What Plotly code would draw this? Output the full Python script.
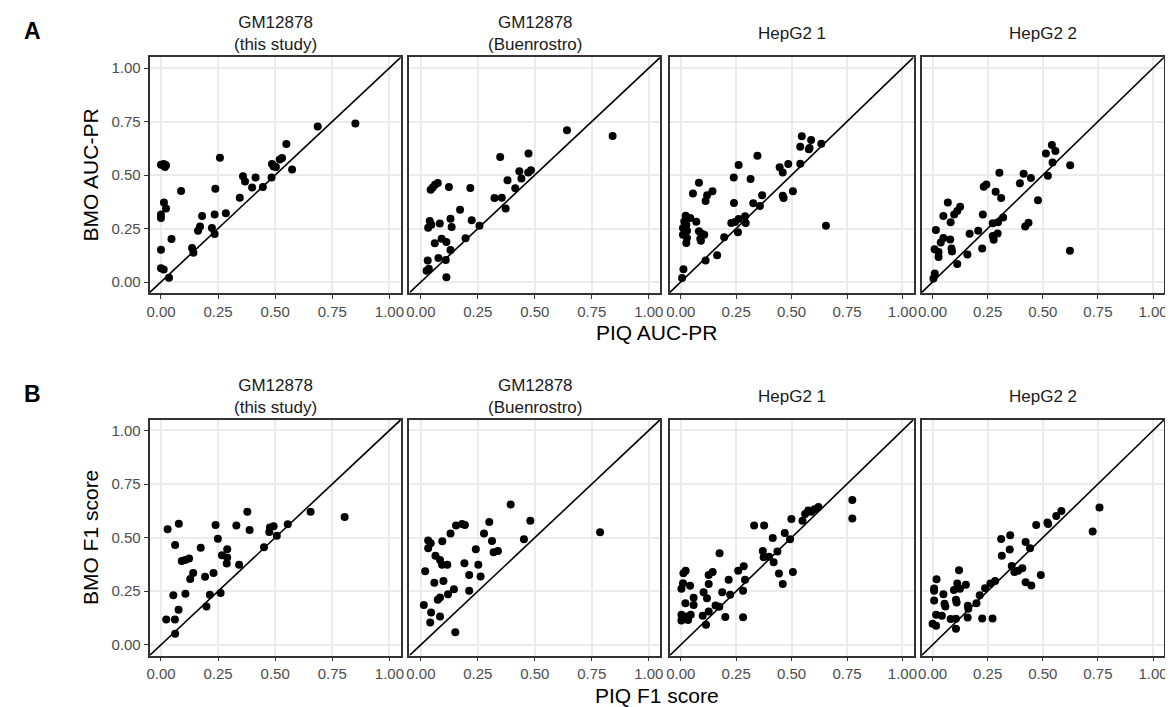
import plotly.graph_objects as go

W, H = 1173, 707
FONT = "Liberation Sans, Arial, Helvetica, sans-serif"

# column titles
col_titles = ["GM12878<br>(this study)", "GM12878<br>(Buenrostro)", "HepG2 1", "HepG2 2"]
row_letters = ["A", "B"]
x_titles = ["PIQ AUC-PR", "PIQ F1 score"]
y_titles = ["BMO AUC-PR", "BMO F1 score"]
tick_vals = [0, 0.25, 0.5, 0.75, 1.0]
tick_text = ["0.00", "0.25", "0.50", "0.75", "1.00"]

# ---- A: AUC-PR ----
piq_auc_gm_this = [0.0, 0.012, 0.022, 0.017, 0.258, 0.686, 0.851, 0.549, 0.53, 0.52,
                   0.574, 0.486, 0.493, 0.503, 0.484, 0.359, 0.368, 0.414, 0.399, 0.446,
                   0.088, 0.238, 0.345, 0.013, 0.022, 0.0, 0.0, 0.180, 0.235, 0.284,
                   0.171, 0.162, 0.223, 0.235, 0.046, 0.0, 0.136, 0.142, 0.0, 0.012,
                   0.035]
bmo_auc_gm_this = [0.548, 0.551, 0.545, 0.537, 0.581, 0.727, 0.741, 0.645, 0.58, 0.572,
                   0.526, 0.551, 0.54, 0.537, 0.488, 0.494, 0.47, 0.488, 0.442, 0.444,
                   0.425, 0.436, 0.394, 0.372, 0.343, 0.315, 0.299, 0.308, 0.316, 0.321,
                   0.259, 0.240, 0.252, 0.224, 0.201, 0.151, 0.159, 0.137, 0.064, 0.058,
                   0.020]

piq_auc_gm_buen = [0.641, 0.841, 0.348, 0.472, 0.432, 0.441, 0.471, 0.483, 0.380, 0.414,
                   0.323, 0.355, 0.372, 0.043, 0.052, 0.062, 0.074, 0.123, 0.217, 0.172,
                   0.039, 0.032, 0.046, 0.083, 0.130, 0.135, 0.223, 0.257, 0.196, 0.091,
                   0.112, 0.061, 0.130, 0.030, 0.077, 0.109, 0.025, 0.035, 0.112]
bmo_auc_gm_buen = [0.709, 0.682, 0.584, 0.601, 0.517, 0.484, 0.512, 0.522, 0.475, 0.438,
                   0.393, 0.394, 0.343, 0.431, 0.442, 0.455, 0.463, 0.444, 0.439, 0.338,
                   0.285, 0.254, 0.268, 0.273, 0.296, 0.257, 0.288, 0.263, 0.204, 0.202,
                   0.187, 0.181, 0.150, 0.100, 0.112, 0.103, 0.053, 0.062, 0.022]

piq_auc_hep1 = [0.546, 0.539, 0.588, 0.581, 0.578, 0.634, 0.346, 0.261, 0.446, 0.460,
                0.485, 0.539, 0.239, 0.315, 0.082, 0.055, 0.143, 0.119, 0.112, 0.367,
                0.460, 0.464, 0.506, 0.240, 0.327, 0.357, 0.655, 0.022, 0.016, 0.043,
                0.070, 0.025, 0.010, 0.028, 0.010, 0.028, 0.025, 0.082, 0.097, 0.088,
                0.106, 0.091, 0.228, 0.245, 0.261, 0.290, 0.293, 0.258, 0.196, 0.112,
                0.164, 0.012, 0.006]
bmo_auc_hep1 = [0.681, 0.632, 0.664, 0.626, 0.620, 0.646, 0.590, 0.547, 0.536, 0.512,
                0.551, 0.553, 0.488, 0.481, 0.464, 0.413, 0.424, 0.405, 0.379, 0.405,
                0.403, 0.393, 0.424, 0.369, 0.368, 0.355, 0.263, 0.310, 0.283, 0.299,
                0.282, 0.268, 0.252, 0.240, 0.221, 0.206, 0.182, 0.237, 0.224, 0.202,
                0.221, 0.193, 0.276, 0.280, 0.294, 0.307, 0.276, 0.232, 0.209, 0.100,
                0.125, 0.059, 0.019]

piq_auc_hep2 = [0.541, 0.514, 0.557, 0.544, 0.624, 0.523, 0.303, 0.413, 0.446, 0.396,
                0.232, 0.244, 0.286, 0.311, 0.478, 0.069, 0.125, 0.112, 0.098, 0.082,
                0.049, 0.228, 0.273, 0.297, 0.320, 0.420, 0.435, 0.015, 0.168, 0.207,
                0.273, 0.295, 0.277, 0.049, 0.080, 0.037, 0.009, 0.027, 0.027, 0.086,
                0.088, 0.225, 0.158, 0.112, 0.623, 0.010, 0.004]
bmo_auc_hep2 = [0.640, 0.601, 0.612, 0.558, 0.545, 0.497, 0.511, 0.506, 0.486, 0.461,
                0.445, 0.456, 0.422, 0.393, 0.382, 0.371, 0.352, 0.332, 0.315, 0.279,
                0.308, 0.315, 0.274, 0.279, 0.301, 0.259, 0.277, 0.243, 0.226, 0.240,
                0.215, 0.227, 0.198, 0.206, 0.199, 0.185, 0.153, 0.140, 0.117, 0.156,
                0.143, 0.157, 0.129, 0.084, 0.146, 0.040, 0.016]

# ---- B: F1 score ----
piq_f1_gm_this = [0.378, 0.655, 0.804, 0.555, 0.477, 0.493, 0.474, 0.507, 0.388, 0.330,
                  0.239, 0.078, 0.029, 0.249, 0.451, 0.062, 0.174, 0.290, 0.267, 0.290,
                  0.288, 0.342, 0.091, 0.106, 0.123, 0.141, 0.128, 0.193, 0.230, 0.054,
                  0.107, 0.214, 0.261, 0.199, 0.077, 0.023, 0.061, 0.062]
bmo_f1_gm_this = [0.621, 0.621, 0.596, 0.562, 0.547, 0.553, 0.526, 0.509, 0.536, 0.557,
                  0.559, 0.565, 0.539, 0.495, 0.455, 0.466, 0.453, 0.446, 0.418, 0.407,
                  0.379, 0.373, 0.391, 0.396, 0.402, 0.335, 0.307, 0.317, 0.335, 0.231,
                  0.238, 0.233, 0.242, 0.179, 0.163, 0.118, 0.118, 0.051]

piq_f1_gm_buen = [0.394, 0.480, 0.300, 0.786, 0.154, 0.181, 0.193, 0.130, 0.277, 0.452,
                  0.312, 0.032, 0.043, 0.032, 0.094, 0.241, 0.319, 0.338, 0.064, 0.084,
                  0.093, 0.116, 0.019, 0.191, 0.252, 0.212, 0.262, 0.059, 0.099, 0.145,
                  0.119, 0.212, 0.074, 0.084, 0.013, 0.045, 0.041, 0.084, 0.151]
bmo_f1_gm_buen = [0.654, 0.579, 0.573, 0.525, 0.556, 0.564, 0.559, 0.519, 0.519, 0.492,
                  0.484, 0.486, 0.474, 0.450, 0.483, 0.446, 0.432, 0.438, 0.415, 0.396,
                  0.373, 0.373, 0.343, 0.380, 0.373, 0.325, 0.318, 0.289, 0.298, 0.259,
                  0.236, 0.252, 0.210, 0.220, 0.185, 0.151, 0.104, 0.132, 0.059]

piq_f1_hep1 = [0.774, 0.774, 0.621, 0.603, 0.588, 0.575, 0.561, 0.549, 0.499, 0.331,
               0.376, 0.469, 0.493, 0.415, 0.175, 0.370, 0.436, 0.374, 0.398, 0.419,
               0.443, 0.460, 0.506, 0.259, 0.284, 0.290, 0.281, 0.022, 0.012, 0.126,
               0.144, 0.216, 0.010, 0.003, 0.042, 0.126, 0.103, 0.118, 0.187, 0.223,
               0.058, 0.058, 0.021, 0.157, 0.174, 0.126, 0.099, 0.003, 0.003, 0.033,
               0.021, 0.045, 0.201, 0.281, 0.114]
bmo_f1_hep1 = [0.675, 0.589, 0.643, 0.632, 0.621, 0.626, 0.610, 0.579, 0.587, 0.556,
               0.557, 0.522, 0.492, 0.498, 0.427, 0.438, 0.435, 0.408, 0.411, 0.385,
               0.332, 0.283, 0.339, 0.345, 0.366, 0.303, 0.252, 0.345, 0.334, 0.326,
               0.339, 0.303, 0.287, 0.261, 0.275, 0.283, 0.245, 0.217, 0.245, 0.233,
               0.219, 0.185, 0.194, 0.183, 0.177, 0.155, 0.135, 0.140, 0.113, 0.116,
               0.132, 0.140, 0.130, 0.129, 0.093]

piq_f1_hep2 = [0.757, 0.726, 0.584, 0.561, 0.521, 0.524, 0.470, 0.311, 0.352, 0.422,
               0.442, 0.350, 0.314, 0.359, 0.371, 0.388, 0.407, 0.422, 0.448, 0.491,
               0.120, 0.018, 0.112, 0.151, 0.124, 0.097, 0.007, 0.007, 0.049, 0.238,
               0.262, 0.284, 0.214, 0.007, 0.054, 0.058, 0.106, 0.109, 0.199, 0.160,
               0.162, 0.016, 0.042, 0.082, 0.106, 0.159, 0.225, 0.272, 0.0, 0.016,
               0.106]
bmo_f1_hep2 = [0.640, 0.528, 0.624, 0.601, 0.570, 0.564, 0.559, 0.494, 0.511, 0.480,
               0.450, 0.444, 0.415, 0.368, 0.339, 0.345, 0.357, 0.292, 0.276, 0.325,
               0.348, 0.306, 0.286, 0.280, 0.261, 0.256, 0.262, 0.252, 0.236, 0.264,
               0.286, 0.298, 0.231, 0.207, 0.191, 0.179, 0.210, 0.197, 0.194, 0.182,
               0.168, 0.140, 0.135, 0.120, 0.121, 0.127, 0.123, 0.123, 0.098, 0.089,
               0.075]

panels = [
    (piq_auc_gm_this, bmo_auc_gm_this), (piq_auc_gm_buen, bmo_auc_gm_buen),
    (piq_auc_hep1, bmo_auc_hep1), (piq_auc_hep2, bmo_auc_hep2),
    (piq_f1_gm_this, bmo_f1_gm_this), (piq_f1_gm_buen, bmo_f1_gm_buen),
    (piq_f1_hep1, bmo_f1_hep1), (piq_f1_hep2, bmo_f1_hep2),
]

# panel frames in pixels
col_px = [(138.5, 391.5), (400.2, 652.7), (662.2, 907.7), (915.8, 1160.0)]
row_px = [(49.3, 284.7), (411.7, 647.5)]
LIM = [-0.05, 1.05]


def fx(px):
    return px / W


def fy(py):
    return 1 - py / H


fig = go.Figure()
layout = {}
for k, (px_vals, py_vals) in enumerate(panels):
    r, c = divmod(k, 4)
    sfx = "" if k == 0 else str(k + 1)
    xa, ya = "x" + sfx, "y" + sfx

    fig.add_trace(go.Scatter(x=LIM, y=LIM, mode="lines", xaxis=xa, yaxis=ya,
                             line=dict(color="black", width=1.6),
                             hoverinfo="skip", showlegend=False))
    fig.add_trace(go.Scatter(x=px_vals, y=py_vals, mode="markers", xaxis=xa, yaxis=ya,
                             marker=dict(color="black", size=8),
                             showlegend=False))

    common = dict(range=LIM, tickvals=tick_vals, ticktext=tick_text,
                  showgrid=True, gridcolor="#EBEBEB", gridwidth=1.8,
                  zeroline=False, showline=True, linecolor="#333333", linewidth=1.8,
                  mirror=True, tickfont=dict(size=15, color="#4D4D4D", family=FONT))
    layout["xaxis" + sfx] = dict(common, domain=[fx(col_px[c][0]), fx(col_px[c][1])],
                                 anchor=ya, ticks="outside", ticklen=4,
                                 tickcolor="#333333", tickwidth=1.3)
    ydom = [fy(row_px[r][1]), fy(row_px[r][0])]
    if c == 0:
        layout["yaxis" + sfx] = dict(common, domain=ydom, anchor=xa, ticks="outside",
                                     ticklen=4, tickcolor="#333333", tickwidth=1.3)
    else:
        layout["yaxis" + sfx] = dict(common, domain=ydom, anchor=xa, ticks="",
                                     showticklabels=False)

annotations = []
for r in range(2):
    top = row_px[r][0]
    for c, title in enumerate(col_titles):
        cx = (col_px[c][0] + col_px[c][1]) / 2
        annotations.append(dict(text=title, x=fx(cx), y=fy(top - 23.5), xref="paper",
                                yref="paper", showarrow=False, xanchor="center",
                                yanchor="middle",
                                font=dict(size=17, color="#1A1A1A", family=FONT)))
    # x axis title
    annotations.append(dict(text=x_titles[r], x=fx((col_px[0][0] + col_px[3][1]) / 2),
                            y=fy(row_px[r][1] + 40), xref="paper", yref="paper",
                            showarrow=False, xanchor="center", yanchor="middle",
                            font=dict(size=21, color="black", family=FONT)))
    # y axis title
    annotations.append(dict(text=y_titles[r], x=fx(79), y=fy(sum(row_px[r]) / 2),
                            xref="paper", yref="paper", showarrow=False, textangle=-90,
                            xanchor="center", yanchor="middle",
                            font=dict(size=21, color="black", family=FONT)))
    # panel letter
    annotations.append(dict(text="<b>%s</b>" % row_letters[r], x=fx(20.5),
                            y=fy(top - 26), xref="paper", yref="paper",
                            showarrow=False, xanchor="center", yanchor="middle",
                            font=dict(size=23, color="black", family=FONT)))

fig.update_layout(width=W, height=H, margin=dict(l=0, r=0, t=0, b=0),
                  paper_bgcolor="white", plot_bgcolor="white",
                  font=dict(family=FONT), annotations=annotations, **layout)

fig.write_html("out.html")
